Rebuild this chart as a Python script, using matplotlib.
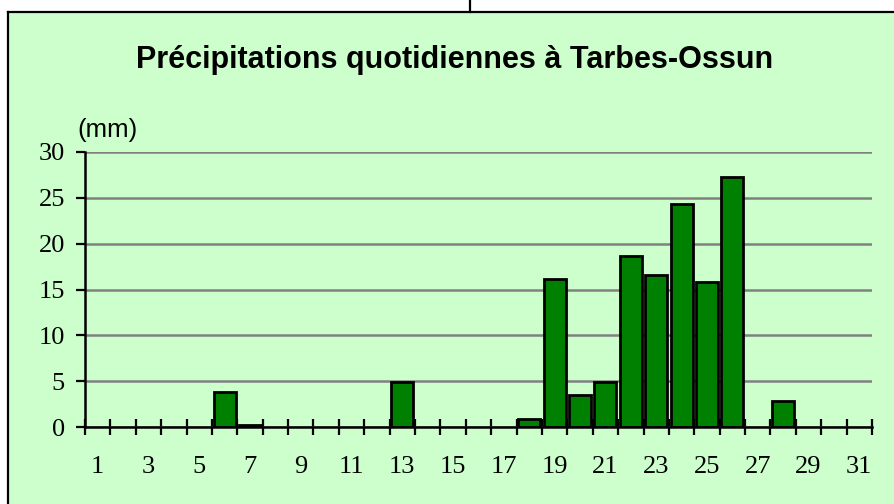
import matplotlib
matplotlib.use("Agg")
import matplotlib.pyplot as plt
from matplotlib.lines import Line2D
from matplotlib.patches import Rectangle
import numpy as np

# daily rainfall (mm), Tarbes-Ossun
days = list(range(1, 32))
precip = [0, 0, 0, 0, 0, 3.8, 0.3, 0, 0, 0,
          0, 0, 4.9, 0, 0, 0, 0, 0.9, 16.1, 3.5,
          4.9, 18.7, 16.6, 24.3, 15.8, 27.2, 0, 2.9, 0, 0, 0]
day_labels = [str(d) for d in days[::2]]
yticks = [0, 5, 10, 15, 20, 25, 30]

bg = "#CCFFCC"
W, H = 895, 504

fig = plt.figure(figsize=(W / 100, H / 100), dpi=100, facecolor="white")

# green chart area with the black frame on top/left
fig.add_artist(Rectangle((8 / W, 0), 1, 1 - 12 / H, transform=fig.transFigure,
                         facecolor=bg, edgecolor="none", zorder=0))
fig.add_artist(Line2D([8 / W, 1], [1 - 12 / H, 1 - 12 / H], transform=fig.transFigure,
                      color="black", lw=1.6))
fig.add_artist(Line2D([8 / W, 8 / W], [0, 1 - 12 / H], transform=fig.transFigure,
                      color="black", lw=1.6))
fig.add_artist(Line2D([470 / W, 470 / W], [1 - 12 / H, 1], transform=fig.transFigure,
                      color="black", lw=1.6))

ax = fig.add_axes([85 / W, (H - 427.3) / H, (872 - 85) / W, (427.3 - 151.7) / H])
ax.set_facecolor(bg)

x = np.array(days)
y = np.array(precip)
wet = y > 0
ax.bar(x[wet], y[wet], width=0.87, color="#008000", edgecolor="black", linewidth=2, zorder=3)

ax.set_xlim(0.5, 31.5)
ax.set_ylim(0, 30)

ax.set_yticks(yticks)
ax.set_yticklabels([str(v) for v in yticks], fontfamily="Liberation Serif", fontsize=19)
ax.yaxis.grid(True, color="#808080", lw=1.8, zorder=1)
ax.set_axisbelow(True)
ax.tick_params(axis="y", direction="out", length=6.5, width=1.6, pad=8)

# ticks between days, labels under odd days
ax.set_xticks(np.arange(0.5, 32, 1))
ax.set_xticklabels([])
ax.tick_params(axis="x", which="major", direction="inout", length=12, width=1.6)
ax.set_xticks(days[::2], minor=True)
ax.set_xticklabels(day_labels, minor=True, fontfamily="Liberation Serif", fontsize=19)
ax.tick_params(axis="x", which="minor", length=0, pad=21)

for s in ["top", "right"]:
    ax.spines[s].set_visible(False)
for s in ["left", "bottom"]:
    ax.spines[s].set_linewidth(1.8)
    ax.spines[s].set_zorder(4)

fig.text(455 / W, 1 - 60 / H, "Précipitations quotidiennes à Tarbes-Ossun",
         ha="center", va="center", fontfamily="Liberation Sans", fontweight="bold",
         fontsize=22)
fig.text(77 / W, 1 - 130 / H, "(mm)", ha="left", va="center",
         fontfamily="Liberation Sans", fontsize=18.5)

fig.savefig("out.png", dpi=100, facecolor="white")
